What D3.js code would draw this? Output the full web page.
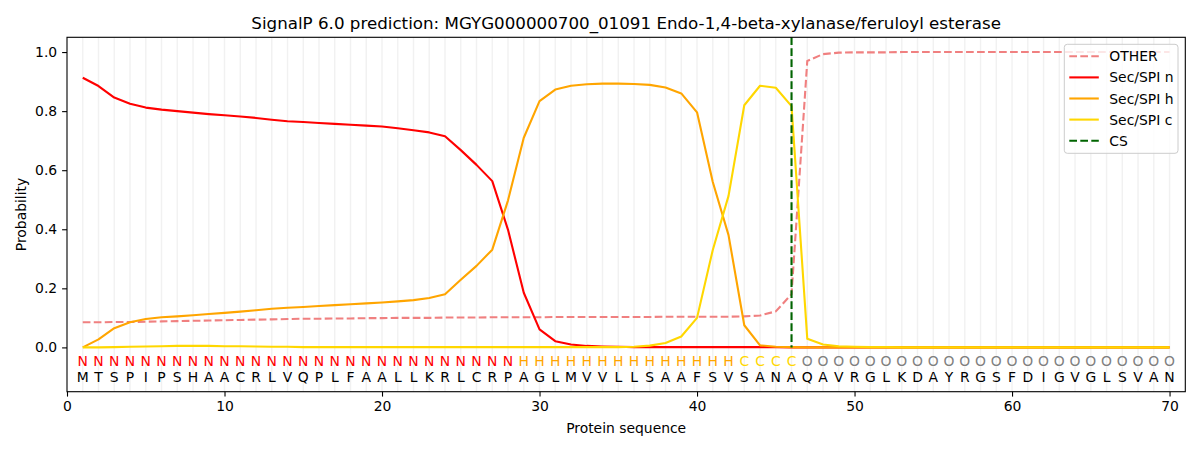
<!DOCTYPE html>
<html>
<head>
<meta charset="utf-8">
<script src="https://cdn.jsdelivr.net/npm/d3@7"></script>
<style>
  body { margin: 0; background: #fff; }
  svg text { font-family: "DejaVu Sans", sans-serif; }
</style>
</head>
<body>
<div id="chart"></div>
<script>
// secuencia y etiquetas por posición
const sequence = "MTSPIPSHAACRLVQPLFAALLKRLCRPAGLMVVLLSAAFSVSANAQAVRGLKDAYRGSFDIGVGLSVAN".split("");
const labels = "NNNNNNNNNNNNNNNNNNNNNNNNNNNNHHHHHHHHHHHHHHCCCCOOOOOOOOOOOOOOOOOOOOOOOO".split("");

const otherVals = [0.085, 0.085, 0.086, 0.086, 0.087, 0.088, 0.089, 0.090, 0.091, 0.092,
  0.093, 0.094, 0.095, 0.096, 0.097, 0.097, 0.098, 0.098, 0.099, 0.099,
  0.100, 0.100, 0.100, 0.101, 0.101, 0.101, 0.102, 0.102, 0.102, 0.102,
  0.103, 0.103, 0.103, 0.103, 0.103, 0.103, 0.103, 0.104, 0.104, 0.104,
  0.104, 0.104, 0.105, 0.108, 0.122, 0.180, 0.970, 0.993, 0.998, 0.999,
  0.999, 0.999, 1.0, 1.0, 1.0, 1.0, 1.0, 1.0, 1.0, 1.0,
  1.0, 1.0, 1.0, 1.0, 1.0, 1.0, 1.0, 1.0, 1.0, 1.0];

const secN = [0.913, 0.885, 0.846, 0.825, 0.812, 0.805, 0.800, 0.795, 0.790, 0.786,
  0.782, 0.777, 0.771, 0.766, 0.763, 0.760, 0.757, 0.754, 0.751, 0.748,
  0.742, 0.735, 0.728, 0.715, 0.668, 0.618, 0.563, 0.398, 0.185, 0.061,
  0.021, 0.010, 0.005, 0.003, 0.002, 0.001, 0.001, 0.001, 0.001, 0.001,
  0.001, 0.001, 0.001, 0.001, 0.001, 0.0, 0.0, 0.0, 0.0, 0.0,
  0.0, 0.0, 0.0, 0.0, 0.0, 0.0, 0.0, 0.0, 0.0, 0.0,
  0.0, 0.0, 0.0, 0.0, 0.0, 0.0, 0.0, 0.0, 0.0, 0.0];

const secH = [0.0, 0.027, 0.065, 0.085, 0.096, 0.102, 0.105, 0.109, 0.113, 0.117,
  0.121, 0.126, 0.131, 0.134, 0.137, 0.140, 0.143, 0.146, 0.149, 0.152,
  0.156, 0.160, 0.167, 0.180, 0.229, 0.276, 0.331, 0.498, 0.710, 0.834,
  0.873, 0.886, 0.891, 0.893, 0.893, 0.892, 0.889, 0.880, 0.860, 0.796,
  0.560, 0.380, 0.075, 0.007, 0.002, 0.001, 0.0, 0.0, 0.0, 0.0,
  0.0, 0.0, 0.0, 0.0, 0.0, 0.0, 0.0, 0.0, 0.0, 0.0,
  0.0, 0.0, 0.0, 0.0, 0.0, 0.0, 0.0, 0.0, 0.0, 0.0];

const secC = [0.0, 0.0, 0.001, 0.002, 0.003, 0.004, 0.005, 0.005, 0.005, 0.004,
  0.004, 0.003, 0.002, 0.002, 0.001, 0.001, 0.001, 0.001, 0.001, 0.001,
  0.001, 0.001, 0.001, 0.001, 0.001, 0.001, 0.001, 0.001, 0.001, 0.001,
  0.001, 0.001, 0.001, 0.001, 0.001, 0.002, 0.006, 0.015, 0.037, 0.100,
  0.330, 0.513, 0.820, 0.886, 0.879, 0.817, 0.029, 0.010, 0.004, 0.002,
  0.001, 0.001, 0.0, 0.0, 0.0, 0.0, 0.0, 0.0, 0.0, 0.0,
  0.0, 0.0, 0.0, 0.0, 0.0, 0.0, 0.0, 0.0, 0.0, 0.0];

const csPos = 46;
const xTicks = [0, 10, 20, 30, 40, 50, 60, 70];
const yTicks = [0.0, 0.2, 0.4, 0.6, 0.8, 1.0];

const series = [
  {name: "OTHER", values: otherVals, color: "#f08080", dash: "7.7,3.3"},
  {name: "Sec/SPI n", values: secN, color: "#ff0000", dash: null},
  {name: "Sec/SPI h", values: secH, color: "#ffa500", dash: null},
  {name: "Sec/SPI c", values: secC, color: "#ffd700", dash: null}
];
const labelColor = {N: "#ff0000", H: "#ffa500", C: "#ffd700", O: "#808080"};

const W = 1200, H = 450;
const margin = {top: 37.3, right: 14.7, bottom: 58.3, left: 67};
const width = W - margin.left - margin.right;
const height = H - margin.top - margin.bottom;

const x = d3.scaleLinear().domain([0, 71]).range([0, width]);
const y = d3.scaleLinear().domain([-0.15, 1.05]).range([height, 0]);

const svg = d3.select("#chart").append("svg")
  .attr("width", W)
  .attr("height", H);

const g = svg.append("g")
  .attr("transform", "translate(" + margin.left + "," + margin.top + ")");

// líneas verticales de fondo
g.selectAll(".grid")
  .data(sequence.map((d, i) => i + 1))
  .enter().append("line")
  .attr("x1", d => x(d)).attr("x2", d => x(d))
  .attr("y1", 0).attr("y2", height)
  .attr("stroke", "#ededed")
  .attr("stroke-opacity", 0.8)
  .attr("stroke-width", 1.4);

const line = d3.line()
  .x((d, i) => x(i + 1))
  .y(d => y(d));

g.selectAll(".serie")
  .data(series)
  .enter().append("path")
  .attr("fill", "none")
  .attr("stroke", d => d.color)
  .attr("stroke-width", 2.1)
  .attr("stroke-linejoin", "round")
  .attr("stroke-dasharray", d => d.dash)
  .attr("d", d => line(d.values));

// línea del sitio de corte
g.append("line")
  .attr("x1", x(csPos)).attr("x2", x(csPos))
  .attr("y1", 0).attr("y2", y(0))
  .attr("stroke", "#006400")
  .attr("stroke-width", 2.1)
  .attr("stroke-dasharray", "7.7,3.3");

// letras
g.selectAll(".lab")
  .data(labels)
  .enter().append("text")
  .attr("x", (d, i) => x(i + 1))
  .attr("y", y(-0.047))
  .attr("text-anchor", "middle")
  .attr("dominant-baseline", "central")
  .style("font-size", "13.9px")
  .attr("fill", d => labelColor[d])
  .text(d => d);

g.selectAll(".aa")
  .data(sequence)
  .enter().append("text")
  .attr("x", (d, i) => x(i + 1))
  .attr("y", y(-0.101))
  .attr("text-anchor", "middle")
  .attr("dominant-baseline", "central")
  .style("font-size", "13.9px")
  .attr("fill", "#000")
  .text(d => d);

// ejes
const xAxis = g.append("g")
  .attr("transform", "translate(0," + height + ")")
  .call(d3.axisBottom(x).tickValues(xTicks).tickFormat(d3.format("d")).tickSizeOuter(0).tickSize(4.9).tickPadding(4.9));

const yAxis = g.append("g")
  .call(d3.axisLeft(y).tickValues(yTicks).tickFormat(d3.format(".1f")).tickSizeOuter(0).tickSize(4.9).tickPadding(4.9));

[xAxis, yAxis].forEach(a => {
  a.selectAll("text").style("font-size", "13.9px").attr("fill", "#000")
    .style("font-family", "DejaVu Sans, sans-serif");
  a.selectAll("line").attr("stroke", "#000").attr("stroke-width", 1.1);
  a.select(".domain").remove();
});

// marco
g.append("rect")
  .attr("width", width).attr("height", height)
  .attr("fill", "none")
  .attr("stroke", "#000")
  .attr("stroke-width", 1.1);

svg.append("text")
  .attr("x", margin.left + width / 2)
  .attr("y", 29)
  .attr("text-anchor", "middle")
  .style("font-size", "16.7px")
  .text("SignalP 6.0 prediction: MGYG000000700_01091 Endo-1,4-beta-xylanase/feruloyl esterase");

svg.append("text")
  .attr("x", margin.left + width / 2)
  .attr("y", 433)
  .attr("text-anchor", "middle")
  .style("font-size", "13.9px")
  .text("Protein sequence");

svg.append("text")
  .attr("transform", "translate(26," + (margin.top + y(0.45)) + ") rotate(-90)")
  .attr("text-anchor", "middle")
  .style("font-size", "13.9px")
  .text("Probability");

// leyenda
const legendItems = series.concat([{name: "CS", color: "#006400", dash: "7.7,3.3"}]);
const legend = svg.append("g").attr("transform", "translate(1064.3,44.3)");
legend.append("rect")
  .attr("width", 113.7).attr("height", 109)
  .attr("rx", 3).attr("ry", 3)
  .attr("fill", "#fff").attr("fill-opacity", 0.8)
  .attr("stroke", "#cccccc").attr("stroke-width", 1);

const item = legend.selectAll(".item")
  .data(legendItems)
  .enter().append("g")
  .attr("transform", (d, i) => "translate(0," + (12 + i * 21.1) + ")");

item.append("line")
  .attr("x1", 5).attr("x2", 34.5)
  .attr("stroke", d => d.color)
  .attr("stroke-width", 2.1)
  .attr("stroke-dasharray", d => d.dash);

item.append("text")
  .attr("x", 45)
  .attr("dominant-baseline", "central")
  .style("font-size", "13.9px")
  .text(d => d.name);
</script>
</body>
</html>
